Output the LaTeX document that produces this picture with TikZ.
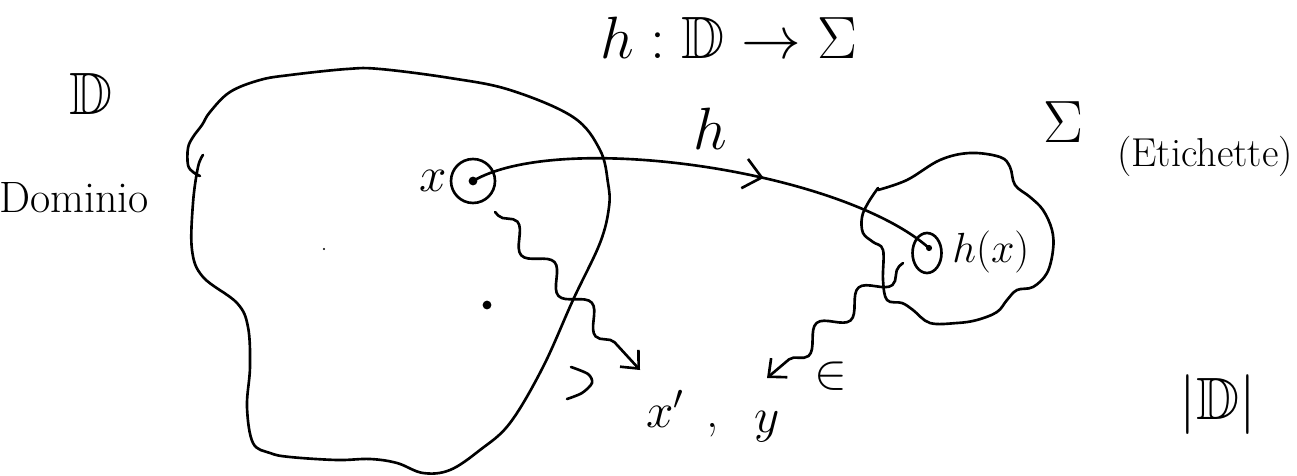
\RequirePackage{fix-cm}
\documentclass[tikz,border=0pt]{standalone}
\usepackage{amsmath,amssymb}
\usepackage{tikz}
\usetikzlibrary{arrows.meta,calc,shapes.geometric,decorations.pathmorphing,decorations.markings}

\begin{document}
\begin{tikzpicture}[x=0.02cm, y=-0.02cm, line width=1.5pt, line cap=round, line join=round,
  txt/.style={inner sep=0pt, font=\fontsize{28}{32}\selectfont},
  bigtxt/.style={inner sep=0pt, font=\fontsize{34}{40}\selectfont},
  dot/.style={circle, fill, inner sep=0pt, minimum size=5pt},
  ring/.style={draw, circle, inner sep=0pt, minimum size=0.88cm},
  barb/.style={-{Straight Barb[length=2.8mm, width=5mm]}},
  wave/.style={barb, decorate, decoration={snake, amplitude=2mm, segment length=11mm, pre length=1mm, post length=4mm}},
  harr/.style={decoration={markings, mark=at position 0.62 with {\arrow{Straight Barb[length=3.5mm, width=6mm]}}}, postaction=decorate}]
\useasboundingbox (0,0) rectangle (1297,476);

% dominio D
\draw plot[smooth, tension=0.6] coordinates {(203,155) (198,167) (193,203) (192,250) (203,277) (237,303) (248,327) (250,367) (247,407) (253,443) (270,453) (290,457) (337,460) (370,459) (397,463) (423,473) (450,470) (480,450) (510,423) (543,367) (573,300) (600,243) (609,207) (608,183) (600,150) (573,117) (510,90) (450,78) (380,69) (347,69) (290,75) (260,80) (230,92) (210,112) (202,125) (193,137) (188,148) (188,165) (193,172) (200,176)};
% etichette Sigma
\draw plot[smooth, tension=0.6] coordinates {(878,190) (907,180) (940,160) (970,153) (1000,157) (1010,167) (1015,185) (1030,197) (1043,210) (1052,230) (1053,250) (1047,273) (1033,287) (1017,290) (1007,300) (997,312) (977,320) (957,323) (930,323) (913,310) (902,303) (887,300) (883,280) (883,250) (873,242) (863,233) (862,217) (868,203) (878,188)};

\node[ring] (x) at (473,181) {};
\node[dot] (xd) at (x.center) {};
\node[draw, ellipse, inner sep=0pt, minimum width=0.58cm, minimum height=0.8cm] (hx) at (927,253) {};
\node[dot, minimum size=3.5pt] (hxd) at (929,248) {};
\node[dot] (p) at (487,305) {};
\fill (324,249) circle (0.6pt);

\node[bigtxt] (Dlab) at (91,94) {$\mathbb{D}$};
\node[txt, font=\fontsize{25}{30}\selectfont] (dom) at (74,198) {Dominio};
\node[txt, anchor=east] (xl) at (448,181) {$x$};
\node[bigtxt] (hl) at (710,129) {$h$};
\node[bigtxt] (map) at (729,38) {$h:\mathbb{D}\to\Sigma$};
\node[bigtxt] (Sl) at (1063,122) {$\Sigma$};
\node[txt, font=\fontsize{23}{27}\selectfont] (et) at (1205,156) {(Etichette)};
\node[txt, font=\fontsize{24}{28}\selectfont, anchor=west] (hxl) at (951,252) {$h(x)$};
\node[txt, anchor=base west] (xp) at (645,427) {$x'$};
\node[txt, anchor=base] (cm) at (713,427) {,};
\node[txt, anchor=base west] (y) at (753,432) {$y$};
\node[txt] (in) at (831,376) {$\in$};
\node[bigtxt] (card) at (1218,405) {$|\mathbb{D}|$};

\coordinate (w1s) at (495,212);
\coordinate (w1e) at (640,370);
\coordinate (w2s) at (903,263);
\coordinate (w2e) at (767,378);

\draw[harr] (xd.center) .. controls (560,130) and (840,170) .. (hxd.center);
\draw[wave] (w1s) -- (w1e);
\draw[wave] (w2s) -- (w2e);
\draw plot[smooth] coordinates {(571,367) (588,374) (592,383) (582,393) (567,399)};
\end{tikzpicture}
\end{document}
